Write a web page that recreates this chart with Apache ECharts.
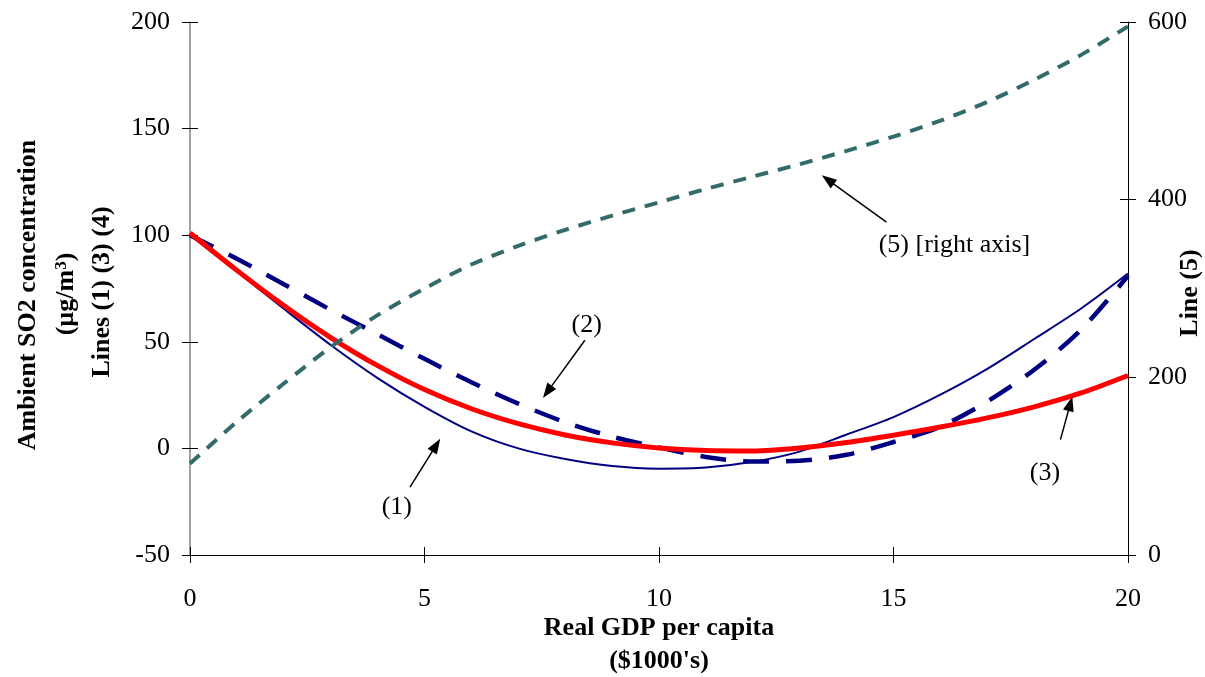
<!DOCTYPE html>
<html>
<head>
<meta charset="utf-8">
<script src="https://cdn.jsdelivr.net/npm/echarts@6/dist/echarts.min.js"></script>
<style>
  html, body { margin: 0; padding: 0; background: #ffffff; }
  #chart { width: 1205px; height: 677px; }
</style>
</head>
<body>
<div id="chart"></div>
<script>
// Real GDP per capita ($1000's)
const gdp = [0, 1, 2, 3, 4, 5, 6, 7, 8, 9, 10, 11, 12, 13, 14, 15, 16, 17, 18, 19, 20];

// Ambient SO2 concentration (µg/m3), left axis
const line1 = [100, 83, 65.5, 48.5, 33, 19.5, 8, 0, -5, -8.3, -9.5, -9, -6.3, -1.5, 6.5, 14.7, 25.2, 37.3, 51.3, 65.6, 82];
const line2 = [100, 89, 77, 65, 53.5, 42, 31, 21, 12.3, 5.5, 0.5, -4, -6.2, -5.8, -3, 3, 10.2, 22, 36.9, 55.7, 81];
const line3 = [101, 83.5, 67, 52, 38.8, 27.6, 18.6, 11.6, 6.3, 2.6, 0.2, -1, -1.2, 0.2, 2.8, 6.2, 10, 14.3, 19.5, 26, 34.2];
// Line (5), right axis
const line5 = [103, 150, 193, 234, 270, 300, 327, 348, 366, 382, 397, 412, 426, 440, 455, 471, 489, 510, 535, 563, 595];

// Callout labels: [gdp, left-axis value, text]
const noteLabels = [
  [4.41, -27.5, '(1)'],
  [8.46, 57.7, '(2)'],
  [18.23, -11.7, '(3)'],
  [16.3, 95.2, '(5) [right axis]']
];
// Callout arrows: [from gdp, from value, to gdp, to value]
const noteArrows = [
  [4.69, -18.2, 5.25, 1.5],
  [8.42, 50.7, 7.62, 26.5],
  [18.56, 4.1, 18.77, 21.0],
  [14.85, 106.1, 13.6, 126.0]
];

const FONT = '"Liberation Serif", "Times New Roman", serif';
const pair = (xs, ys) => xs.map((x, i) => [x, ys[i]]);

const chart = echarts.init(document.getElementById('chart'), null, { renderer: 'canvas' });

const grid = { left: 190, right: 77, top: 22, bottom: 122 };
const tickStyle = { color: '#000', width: 1 };

chart.setOption({
  animation: false,
  backgroundColor: '#ffffff',
  grid: grid,
  xAxis: [
    {
      type: 'value', min: 0, max: 20, interval: 5, position: 'bottom',
      axisLine: { show: true, onZero: false, lineStyle: { color: '#000', width: 1 } },
      axisTick: { show: true, inside: false, length: 8, lineStyle: tickStyle },
      axisLabel: { color: '#000', fontFamily: FONT, fontSize: 26, margin: 31 },
      splitLine: { show: false }
    },
    {
      type: 'value', min: 0, max: 20, interval: 5, position: 'bottom',
      axisLine: { show: false, onZero: false },
      axisTick: { show: true, inside: true, length: 8, lineStyle: tickStyle },
      axisLabel: { show: false },
      splitLine: { show: false }
    }
  ],
  yAxis: [
    {
      type: 'value', min: -50, max: 200, interval: 50, position: 'left',
      axisLine: { show: true, onZero: false, lineStyle: { color: '#808080', width: 1.5 } },
      axisTick: { show: true, inside: false, length: 8, lineStyle: tickStyle },
      axisLabel: { color: '#000', fontFamily: FONT, fontSize: 26, margin: 20 },
      splitLine: { show: false }
    },
    {
      type: 'value', min: 0, max: 600, interval: 200, position: 'right',
      axisLine: { show: true, onZero: false, lineStyle: { color: '#000', width: 1 } },
      axisTick: { show: true, inside: false, length: 8, lineStyle: tickStyle },
      axisLabel: { color: '#000', fontFamily: FONT, fontSize: 26, margin: 20 },
      splitLine: { show: false }
    },
    {
      type: 'value', min: -50, max: 200, interval: 50, position: 'left',
      axisLine: { show: false, onZero: false },
      axisTick: { show: true, inside: true, length: 8, lineStyle: tickStyle },
      axisLabel: { show: false },
      splitLine: { show: false }
    },
    {
      type: 'value', min: 0, max: 600, interval: 200, position: 'right',
      axisLine: { show: false, onZero: false },
      axisTick: { show: true, inside: true, length: 8, lineStyle: tickStyle },
      axisLabel: { show: false },
      splitLine: { show: false }
    }
  ],
  series: [
    {
      name: '(1)', type: 'line', xAxisIndex: 0, yAxisIndex: 0,
      data: pair(gdp, line1), smooth: 0.3, showSymbol: false, symbol: 'none',
      lineStyle: { color: '#000080', width: 2 }, z: 2
    },
    {
      name: '(2)', type: 'line', xAxisIndex: 0, yAxisIndex: 0,
      data: pair(gdp, line2), smooth: 0.3, showSymbol: false, symbol: 'none',
      lineStyle: { color: '#000080', width: 4.5, type: [26, 17] }, z: 3
    },
    {
      name: '(3)', type: 'line', xAxisIndex: 0, yAxisIndex: 0,
      data: pair(gdp, line3), smooth: 0.3, showSymbol: false, symbol: 'none',
      lineStyle: { color: '#FF0000', width: 5 }, z: 4
    },
    {
      name: '(5)', type: 'line', xAxisIndex: 0, yAxisIndex: 1,
      data: pair(gdp, line5), smooth: 0.3, showSymbol: false, symbol: 'none',
      lineStyle: { color: '#336B6B', width: 4, type: [13, 10] }, z: 5
    },
    {
      name: 'callouts', type: 'scatter', xAxisIndex: 0, yAxisIndex: 0,
      data: noteLabels, symbolSize: 0, silent: true, z: 6,
      itemStyle: { color: '#000', opacity: 1 },
      label: {
        show: true, position: 'inside', color: '#000', opacity: 1,
        textBorderWidth: 0, textShadowBlur: 0,
        fontFamily: FONT, fontSize: 26,
        formatter: p => p.value[2]
      },
      markLine: {
        silent: true, animation: false,
        symbol: ['none', 'triangle'], symbolSize: [11, 15],
        lineStyle: { color: '#000', width: 1.5, type: 'solid' },
        label: { show: false },
        emphasis: { disabled: true },
        data: noteArrows.map(a => [{ coord: [a[0], a[1]] }, { coord: [a[2], a[3]] }])
      }
    }
  ],
  graphic: [
    {
      type: 'text', x: 28, y: 295, rotation: Math.PI / 2,
      style: { text: 'Ambient SO2 concentration', fontFamily: FONT, fontSize: 26, fontWeight: 'bold',
               fill: '#000', textAlign: 'center', textVerticalAlign: 'middle' }
    },
    {
      type: 'text', x: 66, y: 294, rotation: Math.PI / 2,
      style: {
        text: '{b|(µg/m}{s|3}{b|)}',
        rich: {
          b: { fontFamily: FONT, fontSize: 26, fontWeight: 'bold', fill: '#000', verticalAlign: 'bottom' },
          s: { fontFamily: FONT, fontSize: 17, fontWeight: 'bold', fill: '#000', verticalAlign: 'top' }
        },
        textAlign: 'center', textVerticalAlign: 'middle'
      }
    },
    {
      type: 'text', x: 102, y: 292, rotation: Math.PI / 2,
      style: { text: 'Lines (1) (3) (4)', fontFamily: FONT, fontSize: 26, fontWeight: 'bold',
               fill: '#000', textAlign: 'center', textVerticalAlign: 'middle' }
    },
    {
      type: 'text', x: 1190, y: 293, rotation: Math.PI / 2,
      style: { text: 'Line (5)', fontFamily: FONT, fontSize: 26, fontWeight: 'bold',
               fill: '#000', textAlign: 'center', textVerticalAlign: 'middle' }
    },
    {
      type: 'text', x: 659, y: 628,
      style: { text: 'Real GDP per capita', fontFamily: FONT, fontSize: 26, fontWeight: 'bold',
               fill: '#000', textAlign: 'center', textVerticalAlign: 'middle' }
    },
    {
      type: 'text', x: 659, y: 661,
      style: { text: "($1000's)", fontFamily: FONT, fontSize: 26, fontWeight: 'bold',
               fill: '#000', textAlign: 'center', textVerticalAlign: 'middle' }
    }
  ]
});
</script>
</body>
</html>
